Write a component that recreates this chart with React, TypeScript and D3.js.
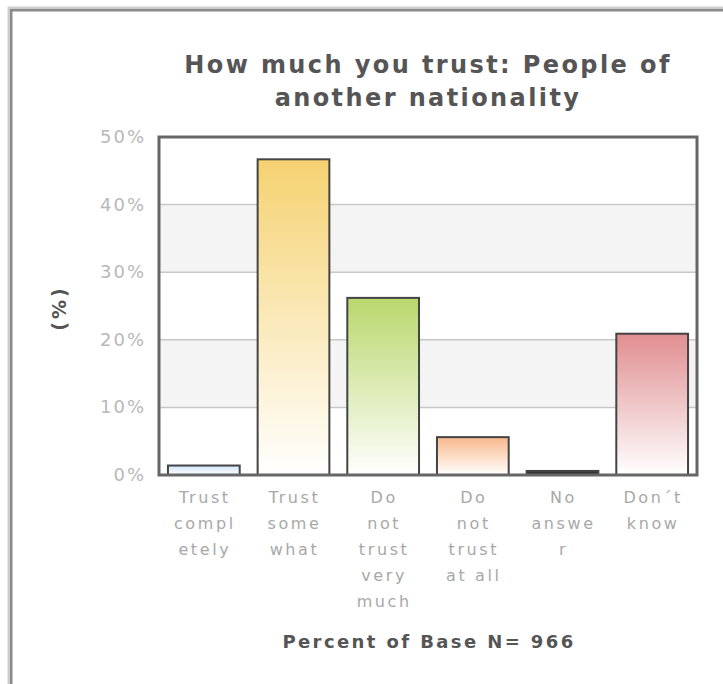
import React from "react";
import * as d3 from "d3";

const categories = ["Trust completely", "Trust somewhat", "Do not trust very much", "Do not trust at all", "No answer", "Don´t know"];
const categoryLines = [
  ["Trust", "compl", "etely"],
  ["Trust", "some", "what"],
  ["Do", "not", "trust", "very", "much"],
  ["Do", "not", "trust", "at all"],
  ["No", "answe", "r"],
  ["Don´t", "know"],
];
const values = [1.4, 46.7, 26.2, 5.6, 0.6, 20.9];
const barColors = ["#cfe3f6", "#f5d271", "#b9d76c", "#f8b88a", "#333333", "#e08e90"];
const yTicks = [0, 10, 20, 30, 40, 50];
const titleLines = ["How much you trust: People of", "another nationality"];
const footer = "Percent of Base N= 966";

export default function App() {
  const left = 159, right = 697, top = 137, bottom = 475;
  const x = d3.scaleBand<string>().domain(categories).range([left, right]).paddingInner(0.2).paddingOuter(0.1);
  const y = d3.scaleLinear().domain([0, 50]).range([bottom, top]);
  const font = "'DejaVu Sans', Verdana, sans-serif";
  return (
    <svg width={723} height={684} style={{ position: "absolute", left: 0, top: 0 }}>
      <defs>
        {barColors.map((c, i) => (
          <linearGradient key={i} id={`g${i}`} x1="0" y1="0" x2="0" y2="1">
            <stop offset="0" stopColor={c} />
            <stop offset="1" stopColor={i === 4 ? c : "#ffffff"} />
          </linearGradient>
        ))}
      </defs>
      <rect x={0} y={0} width={723} height={684} fill="#fff" />
      <rect x={11} y={10} width={760} height={720} fill="none" stroke="#8a8a8a" strokeWidth={3} />
      <rect x={8.5} y={7.5} width={765} height={725} fill="none" stroke="#cfcfcf" strokeWidth={2} />
      {titleLines.map((t, i) => (
        <text key={i} x={428} y={73 + i * 33} textAnchor="middle" fontFamily={font} fontWeight="bold" fontSize={24} letterSpacing={2.4} fill="#555">{t}</text>
      ))}
      {yTicks.slice(0, -1).map((t, i) => (
        <rect key={t} x={left} y={y(t + 10)} width={right - left} height={y(t) - y(t + 10)} fill={i % 2 === 1 ? "#f4f4f4" : "#ffffff"} />
      ))}
      {yTicks.slice(1, -1).map((t) => (
        <line key={t} x1={left} x2={right} y1={y(t)} y2={y(t)} stroke="#c8c8c8" strokeWidth={1.5} />
      ))}
      {yTicks.map((t) => (
        <text key={t} x={146} y={y(t) + 6} textAnchor="end" fontFamily={font} fontSize={18} letterSpacing={2} fill="#b8b8b8">{`${t}%`}</text>
      ))}
      <text transform={`translate(66,${(top + bottom) / 2 + 2}) rotate(-90)`} textAnchor="middle" fontFamily={font} fontSize={19} fontWeight="bold" letterSpacing={3} fill="#555">(%)</text>
      {categories.map((c, i) => (
        <rect key={c} x={x(c)!} y={y(values[i])} width={x.bandwidth()} height={bottom - y(values[i])} fill={`url(#g${i})`} stroke="#444" strokeWidth={2} />
      ))}
      <rect x={left} y={top} width={right - left} height={bottom - top} fill="none" stroke="#666" strokeWidth={3} />
      {categories.map((c, i) => (
        <text key={c} textAnchor="middle" fontFamily={font} fontSize={16} letterSpacing={2.6} fill="#a8a8a8">
          {categoryLines[i].map((l, j) => (
            <tspan key={j} x={x(c)! + x.bandwidth() / 2 + 1} y={503 + j * 26}>{l}</tspan>
          ))}
        </text>
      ))}
      <text x={429} y={648} textAnchor="middle" fontFamily={font} fontWeight="bold" fontSize={18} letterSpacing={2.4} fill="#555">{footer}</text>
    </svg>
  );
}
